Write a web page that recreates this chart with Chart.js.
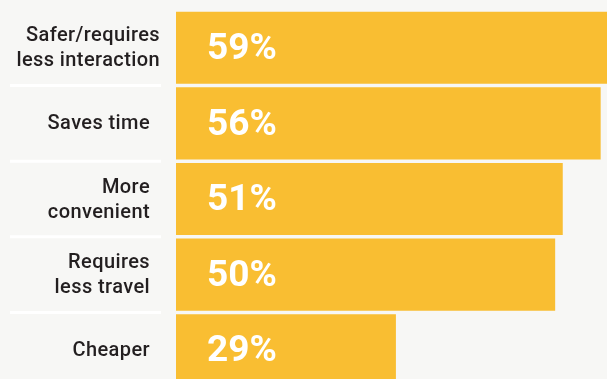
<!DOCTYPE html>
<html>
<head>
<meta charset="utf-8">
<script src="https://cdn.jsdelivr.net/npm/chart.js@4"></script>
<style>
  html, body { margin: 0; padding: 0; background: #f7f7f5; }
  body { width: 607px; height: 379px; overflow: hidden; position: relative; }
  #wrap { position: absolute; left: 0; top: 0; width: 631px; height: 388px; }
</style>
</head>
<body>
<div id="wrap"><canvas id="chart"></canvas></div>
<script>
// reasons people give, one per bar
const reasons = [
  ['Safer/requires', 'less interaction'],
  ['Saves time'],
  ['More', 'convenient'],
  ['Requires', 'less travel'],
  ['Cheaper'],
];
const shares = [59, 56, 51, 50, 29];

const barColor = '#f9be32';
const textColor = '#231f20';

// category labels, separators and the percentages inside the bars
const labelPlugin = {
  id: 'labels',
  afterDatasetsDraw(chart) {
    const ctx = chart.ctx;
    const y = chart.scales.y;
    const meta = chart.getDatasetMeta(0);
    ctx.save();

    // white rules between the category labels
    ctx.strokeStyle = '#ffffff';
    ctx.lineWidth = 3;
    for (let i = 0; i < reasons.length - 1; i++) {
      const py = (y.getPixelForValue(i) + y.getPixelForValue(i + 1)) / 2;
      ctx.beginPath();
      ctx.moveTo(10, py);
      ctx.lineTo(161, py);
      ctx.stroke();
    }

    // category names, right aligned
    ctx.fillStyle = textColor;
    ctx.font = '500 20px Roboto';
    ctx.letterSpacing = '0.4px';
    ctx.textAlign = 'right';
    ctx.textBaseline = 'middle';
    const lh = 25;
    reasons.forEach((lines, i) => {
      const cy = y.getPixelForValue(i) + 1;
      const right = i === 0 ? 160 : 150;
      lines.forEach((t, j) => {
        ctx.fillText(t, right, cy + (j - (lines.length - 1) / 2) * lh);
      });
    });

    // percentages inside each bar
    ctx.fillStyle = '#ffffff';
    ctx.font = 'bold 37px Roboto';
    ctx.letterSpacing = '0px';
    ctx.textAlign = 'left';
    meta.data.forEach((bar, i) => {
      ctx.fillText(shares[i] + '%', bar.base + 31, bar.y + 2);
    });
    ctx.restore();
  }
};

new Chart(document.getElementById('chart'), {
  type: 'bar',
  data: {
    labels: reasons,
    datasets: [{
      data: shares,
      backgroundColor: barColor,
      borderWidth: 0,
      barPercentage: 0.954,
      categoryPercentage: 1,
    }]
  },
  options: {
    indexAxis: 'y',
    responsive: true,
    maintainAspectRatio: false,
    animation: false,
    layout: { padding: { top: 10, right: 0, bottom: 0, left: 0 } },
    plugins: {
      legend: { display: false },
      tooltip: { enabled: false },
    },
    scales: {
      x: {
        display: false,
        min: 0,
        max: 60,
      },
      y: {
        grid: { display: false, drawTicks: false },
        border: { display: false },
        ticks: { display: false },
        afterFit(scale) { scale.width = 176; },
      }
    }
  },
  plugins: [labelPlugin]
});
</script>
</body>
</html>
